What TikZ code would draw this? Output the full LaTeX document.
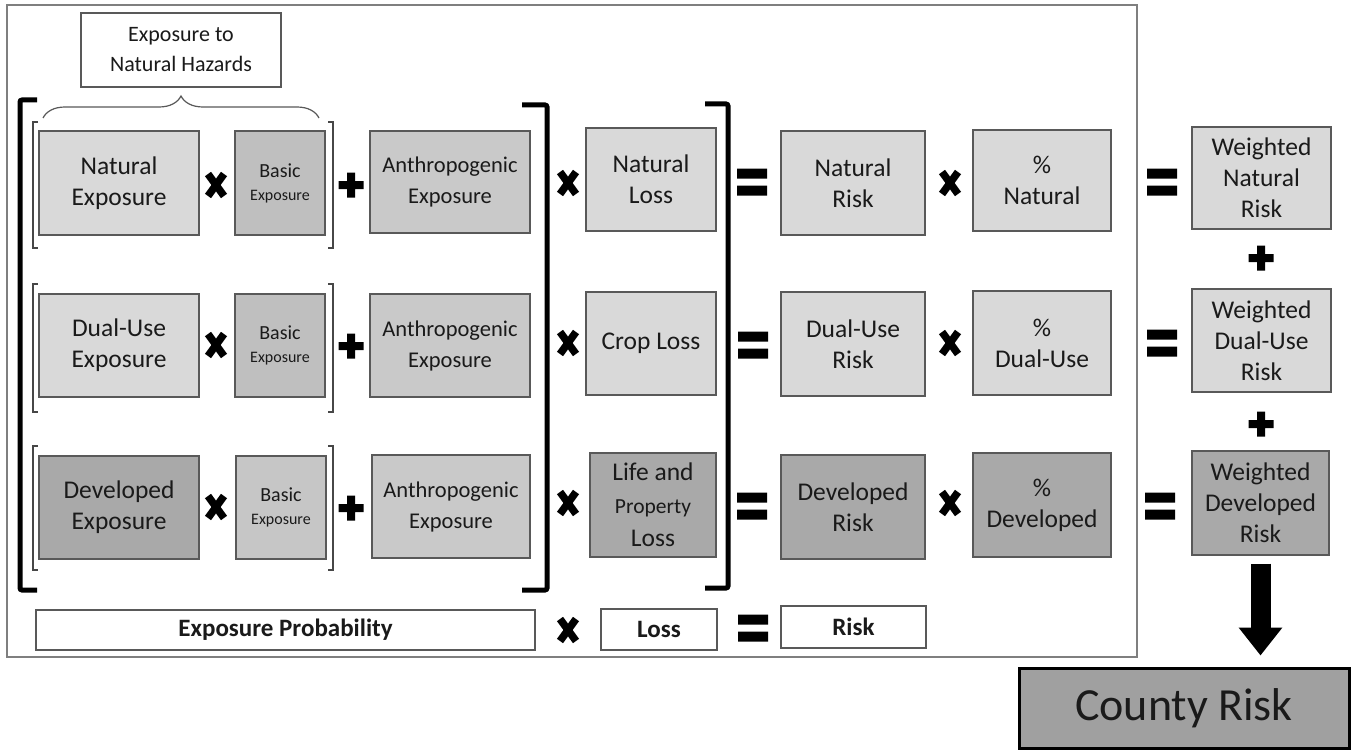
\documentclass[tikz,border=0pt]{standalone}
\usepackage{fontspec}
\setmainfont{Carlito}
\usetikzlibrary{arrows.meta,decorations.pathreplacing}
\definecolor{lg}{HTML}{D9D9D9}
\definecolor{mg}{HTML}{BFBFBF}
\definecolor{ag}{HTML}{C9C9C9}
\definecolor{bg3}{HTML}{C6C6C6}
\definecolor{dg}{HTML}{A9A9A9}
\definecolor{cg}{HTML}{A0A0A0}
\definecolor{bordc}{HTML}{595959}
\definecolor{framec}{HTML}{7F7F7F}
\definecolor{txt}{HTML}{1A1A1A}
\begin{document}
\begin{tikzpicture}[x=1pt,y=-1pt,
  box/.style={draw=bordc, line width=1.3pt, inner sep=0pt, align=center, text=txt,
    font=\fontsize{25.5}{31}\selectfont},
  sz/.style 2 args={minimum width=#1 pt, minimum height=#2 pt},
  anth/.style={font=\fontsize{22.5}{31}\selectfont},
  basicf/.style={font=\fontsize{16}{23}\selectfont},
  wbox/.style={draw=bordc, line width=1.3pt, fill=white, inner sep=0pt, align=center, text=txt},
  boldtxt/.style={font=\bfseries\fontsize{25}{28}\selectfont},
  sbrack/.style={draw=bordc!80!black, line width=1.4pt},
  bbrack/.style={draw=black, line width=5pt, rounded corners=2pt},
  timessym/.pic={\draw[line width=7.5pt] (-8,-11)--(8,11) (-8,11)--(8,-11);},
  plussym/.pic={\fill (-12.5,-4) rectangle (12.5,4) (-4,-12.5) rectangle (4,12.5);},
  eqsym/.pic={\fill (-15,-13.5) rectangle (15,-3.5) (-15,3.5) rectangle (15,13.5);}
]
\useasboundingbox (0,0) rectangle (1353,752);
\fill[white] (0,0) rectangle (1353,752);
\draw[framec, line width=1.2pt] (7,5) rectangle (1137,657);

% header
\node[wbox, sz={200}{74}, font=\fontsize{22}{30}\selectfont] (enh) at (181,50) {Exposure to\\Natural Hazards};
\draw[bordc, line width=1.2pt, decorate, decoration={brace, amplitude=22pt}] (43,118) -- (319,118);

% row 1
\node[box, sz={160}{104}, fill=lg] (ne) at (119,183) {Natural\\Exposure};
\node[box, basicf, sz={90}{104}, fill=mg] (be1) at (280,183) {{\fontsize{20}{23}\selectfont Basic}\\Exposure};
\node[box, anth, sz={160}{102}, fill=ag] (ae1) at (450,182) {Anthropogenic\\Exposure};
\node[box, sz={130}{103}, fill=lg] (nl) at (651,179.5) {Natural\\Loss};
\node[box, sz={144}{104}, fill=lg] (nr) at (853,183) {Natural\\Risk};
\node[box, sz={138}{101}, fill=lg] (pn) at (1042,180.5) {\%\\Natural};
\node[box, sz={139}{102}, fill=lg] (wnr) at (1261.5,178) {Weighted\\Natural\\Risk};

% row 2
\node[box, sz={160}{103}, fill=lg] (de) at (119,345.5) {Dual-Use\\Exposure};
\node[box, basicf, sz={90}{103}, fill=mg] (be2) at (280,345.5) {{\fontsize{20}{23}\selectfont Basic}\\Exposure};
\node[box, anth, sz={160}{103}, fill=ag] (ae2) at (450,345.5) {Anthropogenic\\Exposure};
\node[box, sz={130}{103}, fill=lg] (cl) at (651,343.5) {Crop Loss};
\node[box, sz={144}{104}, fill=lg] (dr) at (853,344) {Dual-Use\\Risk};
\node[box, sz={138}{104}, fill=lg] (pd) at (1042,343) {\%\\Dual-Use};
\node[box, sz={139}{103}, fill=lg] (wdr) at (1261.5,340.5) {Weighted\\Dual-Use\\Risk};

% row 3
\node[box, sz={160}{103}, fill=dg] (dve) at (119,507.5) {Developed\\Exposure};
\node[box, basicf, sz={90}{103}, fill=bg3] (be3) at (281,507.5) {{\fontsize{20}{23}\selectfont Basic}\\Exposure};
\node[box, anth, sz={158}{103}, fill=ag] (ae3) at (451,506.5) {Anthropogenic\\Exposure};
\node[box, sz={126}{104}, fill=dg, font=\fontsize{25.5}{33}\selectfont] (lpl) at (653,505) {Life and\\{\fontsize{21.5}{33}\selectfont Property}\\Loss};
\node[box, sz={144}{104}, fill=dg] (dvr) at (853,507) {Developed\\Risk};
\node[box, sz={138}{104}, fill=dg] (pdv) at (1042,505) {\%\\Developed};
\node[box, sz={137}{104}, fill=dg] (wdvr) at (1260.5,503) {Weighted\\Developed\\Risk};

% bottom legend
\node[wbox, boldtxt, sz={499}{40}] (ep) at (285.5,630) {Exposure Probability};
\node[wbox, boldtxt, sz={116}{41}] (loss) at (659,629.5) {Loss};
\node[wbox, boldtxt, sz={145}{42}] (risk) at (853.5,627) {Risk};

% county risk
\node[draw=black, line width=3pt, fill=cg, minimum width=330pt, minimum height=80pt, inner sep=0pt,
  text=txt, font=\fontsize{46}{52}\selectfont] (county) at (1184,708) {County Risk};
\draw[line width=20pt, -{Triangle[width=42pt,length=28pt]}, shorten <=8pt, shorten >=11pt]
  (wdvr.south) -- (wdvr.south |- county.north);

% small brackets
\foreach \ya/\yb in {122/248, 284/412, 446/570}{
  \draw[sbrack] (38,\ya) -- (33,\ya) -- (33,\yb) -- (38,\yb);
  \draw[sbrack] (328,\ya) -- (333,\ya) -- (333,\yb) -- (328,\yb);
}

% big brackets
\draw[bbrack] (37,100) -- (20,100) -- (20,590) -- (37,590);
\draw[bbrack] (522,105) -- (547,105) -- (547,590) -- (522,590);
\draw[bbrack] (705,104) -- (728,104) -- (728,588) -- (705,588);

% operators
\foreach \p in {(216,185),(216,345),(216,507),(568,183),(568,343),(568,503),(568,630),(950,183),(950,343),(950,503)}
  \pic at \p {timessym};
\foreach \p in {(351,185),(351,346),(351,508),(1261,258),(1261,424)}
  \pic at \p {plussym};
\foreach \p in {(752,182),(753,345),(752,506),(753,628),(1162,182),(1162,343),(1160,506)}
  \pic at \p {eqsym};
\end{tikzpicture}
\end{document}
